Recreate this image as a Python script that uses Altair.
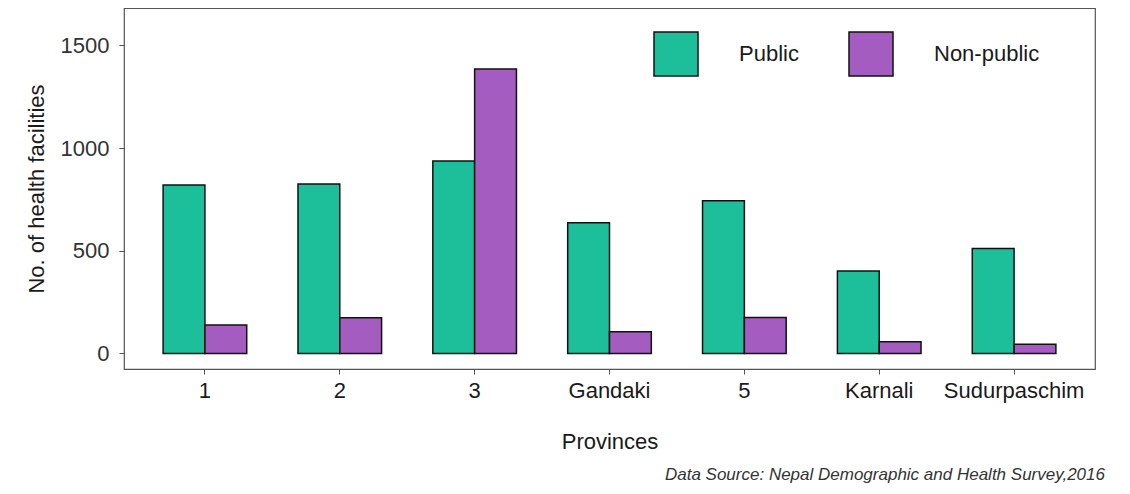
import altair as alt
import pandas as pd

provinces = ["1", "2", "3", "Gandaki", "5", "Karnali", "Sudurpaschim"]
public = [820, 825, 937, 636, 743, 401, 511]
non_public = [138, 173, 1385, 105, 175, 57, 45]
series = ["Public", "Non-public"]
colors = ["#1dbf9b", "#a55cc1"]
y_ticks = [0, 500, 1000, 1500]
caption = "Data Source: Nepal Demographic and Health Survey,2016"

rows = []
for p, a, b in zip(provinces, public, non_public):
    rows.append({"Province": p, "Type": series[0], "Count": a})
    rows.append({"Province": p, "Type": series[1], "Count": b})
df = pd.DataFrame(rows)

FONT = "Liberation Sans"

bars = alt.Chart(df).mark_bar(stroke="#111111", strokeWidth=1.5).encode(
    x=alt.X("Province:N", sort=provinces, title="Provinces",
            scale=alt.Scale(paddingInner=0.38, paddingOuter=0.29),
            axis=alt.Axis(labelAngle=0, labelFontSize=22, titleFontSize=22,
                          labelPadding=6, titlePadding=30, tickSize=5,
                          titleFontWeight="normal",
                          domain=False, labelColor="#1a1a1a", titleColor="#1a1a1a",
                          tickColor="#555555", labelFont=FONT, titleFont=FONT)),
    xOffset=alt.XOffset("Type:N", sort=series),
    y=alt.Y("Count:Q", title="No. of health facilities",
            scale=alt.Scale(domain=[-76, 1682], nice=False, zero=False),
            axis=alt.Axis(values=y_ticks, format="d", grid=False, domain=False, tickSize=5,
                          labelFontSize=22, titleFontSize=22, labelPadding=10,
                          titlePadding=12, labelColor="#333333", titleColor="#1a1a1a",
                          titleFontWeight="normal",
                          tickColor="#555555", labelFont=FONT, titleFont=FONT)),
    color=alt.Color("Type:N", sort=series,
                    scale=alt.Scale(domain=series, range=colors),
                    legend=alt.Legend(title=None, orient="none", legendX=529, legendY=23,
                                      direction="horizontal", symbolType="square",
                                      symbolSize=1936, symbolStrokeColor="#111111",
                                      symbolStrokeWidth=1.5, labelOffset=40,
                                      columnPadding=47, labelFontSize=22,
                                      labelFont=FONT, labelColor="#1a1a1a",
                                      symbolOpacity=1, padding=0)),
)

cap = alt.Chart(pd.DataFrame({"t": [caption]})).mark_text(
    align="right", baseline="middle", fontStyle="italic", fontSize=17,
    font=FONT, color="#333333"
).encode(x=alt.value(981), y=alt.value(467), text="t:N")

chart = alt.layer(bars, cap).properties(
    width=971, height=361,
    autosize=alt.AutoSizeParams(type="none"),
    padding={"left": 116, "top": 0, "right": 20, "bottom": 116},
).configure_view(stroke="#555555", strokeWidth=1.2)

chart.save("out.html", embed_options={"renderer": "svg", "actions": False})
